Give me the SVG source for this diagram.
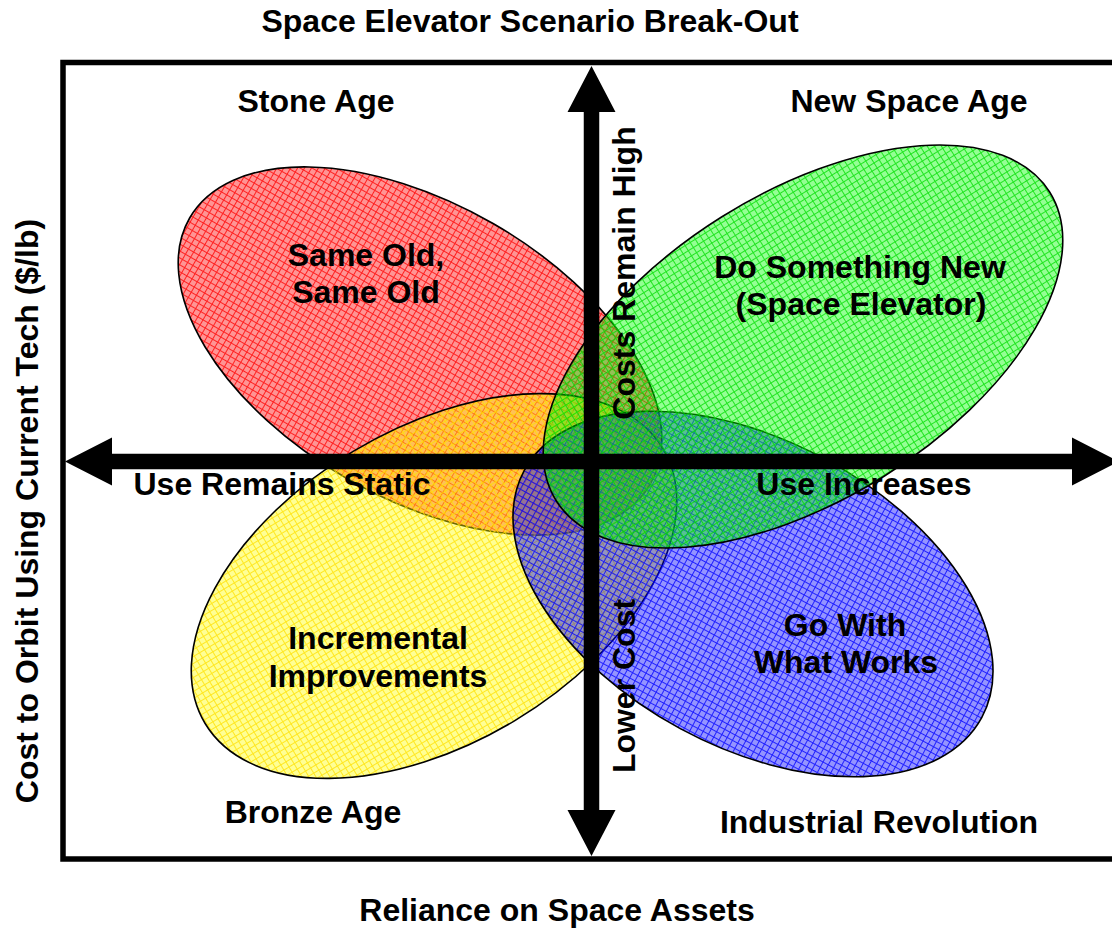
<svg xmlns="http://www.w3.org/2000/svg" width="1112" height="930" viewBox="0 0 1112 930">
  <defs>
    <pattern id="pRed" patternUnits="userSpaceOnUse" width="6" height="6">
      <rect width="6" height="6" fill="#FF0000" fill-opacity="0.42"/>
      <rect width="6" height="1" fill="#FF0000" fill-opacity="0.78"/>
      <rect width="1" height="5" y="1" fill="#FF0000" fill-opacity="0.78"/>
    </pattern>
    <pattern id="pYellow" patternUnits="userSpaceOnUse" width="6" height="6">
      <rect width="6" height="6" fill="#FFFF00" fill-opacity="0.42"/>
      <rect width="6" height="1" fill="#FFE000" fill-opacity="0.78"/>
      <rect width="1" height="5" y="1" fill="#FFE000" fill-opacity="0.78"/>
    </pattern>
    <pattern id="pGreen" patternUnits="userSpaceOnUse" width="6" height="6">
      <rect width="6" height="6" fill="#00FF00" fill-opacity="0.42"/>
      <rect width="6" height="1" fill="#00DD00" fill-opacity="0.78"/>
      <rect width="1" height="5" y="1" fill="#00DD00" fill-opacity="0.78"/>
    </pattern>
    <pattern id="pBlue" patternUnits="userSpaceOnUse" width="6" height="6">
      <rect width="6" height="6" fill="#0000FF" fill-opacity="0.42"/>
      <rect width="6" height="1" fill="#0000FF" fill-opacity="0.78"/>
      <rect width="1" height="5" y="1" fill="#0000FF" fill-opacity="0.78"/>
    </pattern>
  </defs>
  <style>
    .lobe { stroke: #000; stroke-width: 1.6; }
    .t { font-family: "Liberation Sans", Arial, sans-serif; font-weight: bold; font-size: 32px; fill: #000; text-anchor: middle; }
    .axis { fill: #000; stroke: none; }
    .frame { fill: none; stroke: #000; stroke-width: 5.5; }
  </style>
  <rect width="1112" height="930" fill="#fff"/>
  <text class="t" x="530" y="32">Space Elevator Scenario Break-Out</text>
  <rect class="frame" x="63" y="62.5" width="1080" height="796.5"/>

  <g id="lobes">
    <g id="same-old"><ellipse class="lobe" fill="url(#pRed)" cx="420" cy="351" rx="266" ry="147" transform="rotate(30 420 351)"/></g>
    <g id="incremental"><ellipse class="lobe" fill="url(#pYellow)" cx="434" cy="586" rx="267" ry="157" transform="rotate(-31 434 586)"/></g>
    <g id="go-with"><ellipse class="lobe" fill="url(#pBlue)" cx="753" cy="594" rx="260" ry="153" transform="rotate(28.4 753 594)"/></g>
    <g id="do-new"><ellipse class="lobe" fill="url(#pGreen)" cx="803" cy="346.5" rx="291" ry="153" transform="rotate(-32 803 346.5)"/></g>
  </g>

  <g id="connectors">
    <polygon class="axis" points="591.5,66 615.5,112 599.25,112 599.25,810 615.5,810 591.5,856 567.5,810 583.75,810 583.75,112 567.5,112"/>
    <polygon class="axis" points="65,461.5 112,437.5 112,453.75 1072,453.75 1072,437.5 1119,461.5 1072,485.5 1072,469.25 112,469.25 112,485.5"/>
  </g>

  <g id="labels">
    <text class="t" x="316" y="112">Stone Age</text>
    <text class="t" x="909" y="112">New Space Age</text>
    <text class="t" x="313" y="823">Bronze Age</text>
    <text class="t" x="879" y="833">Industrial Revolution</text>
    <text class="t" x="557" y="921">Reliance on Space Assets</text>
    <text class="t" transform="translate(38,511) rotate(-90)" x="0" y="0">Cost to Orbit Using Current Tech ($/lb)</text>
    <text class="t" transform="translate(635,273) rotate(-90)" x="0" y="0">Costs Remain High</text>
    <text class="t" transform="translate(635,686) rotate(-90)" x="0" y="0">Lower Cost</text>
    <text class="t" x="282" y="495">Use Remains Static</text>
    <text class="t" x="864" y="495">Use Increases</text>
  </g>
  <g id="lobe-labels">
    <text class="t" x="366" y="266">Same Old,</text>
    <text class="t" x="366" y="303">Same Old</text>
    <text class="t" x="860" y="278">Do Something New</text>
    <text class="t" x="861" y="315">(Space Elevator)</text>
    <text class="t" x="378" y="649">Incremental</text>
    <text class="t" x="378" y="687">Improvements</text>
    <text class="t" x="845" y="636">Go With</text>
    <text class="t" x="846" y="673">What Works</text>
  </g>
</svg>
